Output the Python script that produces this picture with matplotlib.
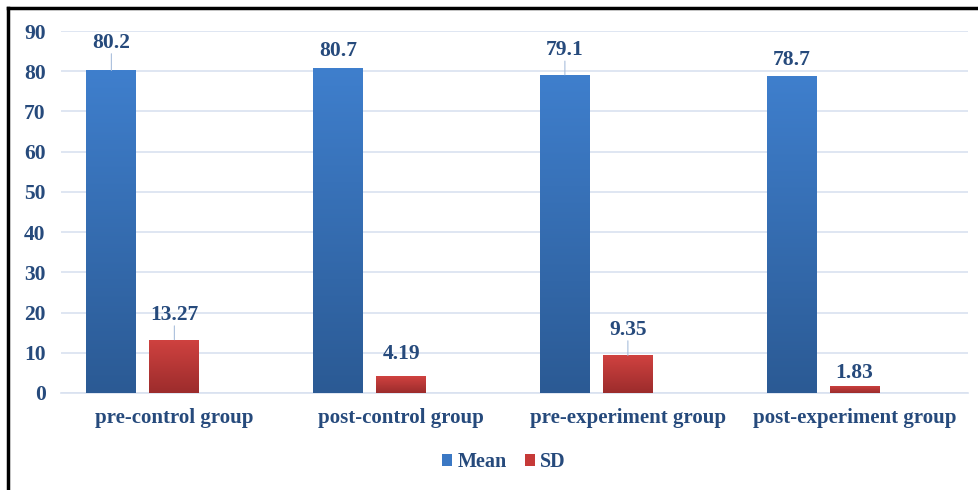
import numpy as np
import matplotlib
matplotlib.use('Agg')
import matplotlib.pyplot as plt
from matplotlib.colors import LinearSegmentedColormap
from matplotlib.lines import Line2D
from matplotlib.patches import Patch

# Data
groups = ['pre-control group', 'post-control group', 'pre-experiment group', 'post-experiment group']
mean_vals = [80.2, 80.7, 79.1, 78.7]
sd_vals = [13.27, 4.19, 9.35, 1.83]
mean_labels = ['80.2', '80.7', '79.1', '78.7']
sd_labels = ['13.27', '4.19', '9.35', '1.83']

# label baseline offsets above bar tops (points) and whether a leader line is drawn
mean_offsets = [16.5, 8.6, 14.4, 8.6]
sd_offsets = [14.4, 12, 15, 5.8]
mean_leader = [True, False, True, False]
sd_leader = [True, False, True, False]

text_color = '#264a7c'
grid_color = '#d9e2f0'
plt.rcParams['font.family'] = ['Liberation Serif', 'DejaVu Serif']
plt.rcParams['font.weight'] = 'bold'

fig = plt.figure(figsize=(9.79, 4.90), dpi=100)
ax = fig.add_axes([61 / 979, 1 - 393 / 490, (968 - 61) / 979, (393 - 31) / 490])

x = np.arange(len(groups))
width = 0.2205
step = 0.2778

blue_cmap = LinearSegmentedColormap.from_list('b', ['#2b5a94', '#3f7fcd'])
red_cmap = LinearSegmentedColormap.from_list('r', ['#9c2c2c', '#d04240'])

def grad_bars(xpos, vals, cmap):
    bars = ax.bar(xpos, vals, width, color='none', edgecolor='none', zorder=3)
    grad = np.linspace(0, 1, 256).reshape(-1, 1)
    for b in bars:
        x0, y0 = b.get_x(), b.get_y()
        w, h = b.get_width(), b.get_height()
        im = ax.imshow(grad, cmap=cmap, origin='lower', aspect='auto',
                       extent=[x0, x0 + w, y0, y0 + h], zorder=3)
        im.set_clip_path(b)
    return bars

mb = grad_bars(x - step, mean_vals, blue_cmap)
sb = grad_bars(x, sd_vals, red_cmap)

def add_labels(bars, labels, offsets, leaders):
    for b, lab, off, ld in zip(bars, labels, offsets, leaders):
        cx = b.get_x() + b.get_width() / 2
        top = b.get_height()
        ax.annotate(lab, (cx, top), xytext=(0, off), textcoords='offset points',
                    ha='center', va='baseline', fontsize=15.5, color=text_color,
                    fontweight='bold', zorder=5)
        if ld:
            ax.annotate('', (cx, top), xytext=(0, off - 4.5), textcoords='offset points',
                        arrowprops=dict(arrowstyle='-', color='#a9bfdc', lw=0.8,
                                        shrinkA=0, shrinkB=0), zorder=4)

add_labels(mb, mean_labels, mean_offsets, mean_leader)
add_labels(sb, sd_labels, sd_offsets, sd_leader)

ax.set_xlim(-0.5, len(groups) - 0.5)
ax.set_ylim(0, 90)
ax.set_yticks(np.arange(0, 91, 10))
ax.yaxis.grid(True, color=grid_color, lw=1.2, zorder=0)
ax.set_axisbelow(True)
for s in ['top', 'right', 'left']:
    ax.spines[s].set_visible(False)
ax.spines['bottom'].set_color(grid_color)
ax.spines['bottom'].set_linewidth(1.2)
ax.set_xticks(x)
ax.set_xticklabels(groups, fontsize=15, color=text_color, fontweight='bold')
ax.tick_params(axis='x', length=0, pad=11)
ax.tick_params(axis='y', length=0, pad=11, labelsize=15.5, labelcolor=text_color)
for t in ax.get_yticklabels():
    t.set_fontweight('bold')

handles = [Patch(facecolor='#3b78c4', edgecolor='none', label='Mean'),
           Patch(facecolor='#c63a38', edgecolor='none', label='SD')]
fig.legend(handles=handles, loc='center', bbox_to_anchor=(504 / 979, 1 - 462 / 490),
           ncol=2, frameon=False, handlelength=0.5, handleheight=0.5,
           handletextpad=0.25, columnspacing=0.9,
           prop={'family': 'Liberation Serif', 'weight': 'bold', 'size': 14.5})
for t in fig.legends[0].get_texts():
    t.set_color(text_color)

# partial border as in the original screenshot
fig.add_artist(Line2D([8 / 979, 1], [1 - 8 / 490, 1 - 8 / 490], color='black', lw=2.5))
fig.add_artist(Line2D([8 / 979, 8 / 979], [0, 1 - 8 / 490], color='black', lw=2.5))

fig.savefig('out.png', dpi=100)
